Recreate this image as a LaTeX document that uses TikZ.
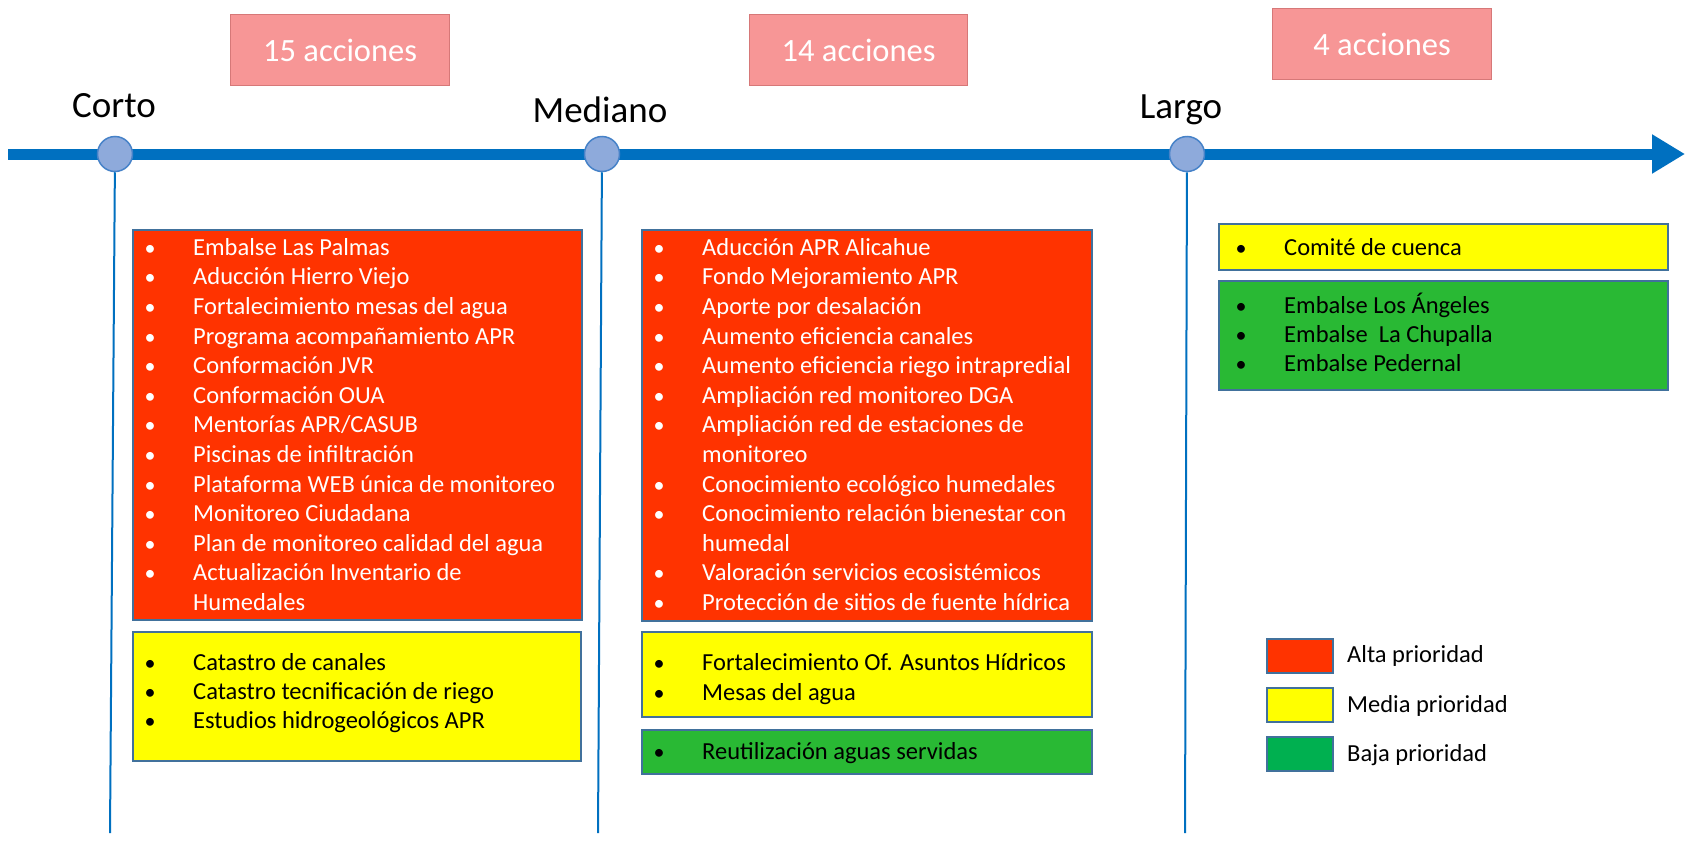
\documentclass[tikz,border=0pt]{standalone}
\usepackage{fontspec}
\setmainfont{Carlito}
\usetikzlibrary{arrows.meta}

\definecolor{axisblue}{RGB}{0,112,192}
\definecolor{dotfill}{RGB}{142,170,219}
\definecolor{dotedge}{RGB}{70,130,200}
\definecolor{alta}{RGB}{255,51,0}
\definecolor{media}{RGB}{255,255,0}
\definecolor{baja}{RGB}{41,185,52}
\definecolor{bajaleg}{RGB}{0,176,80}
\definecolor{paneledge}{RGB}{65,113,156}
\definecolor{countfill}{RGB}{247,150,150}
\definecolor{countedge}{RGB}{214,120,120}

% rows of a list: name, text x, first row y, colour, pitch, rows
\newcommand\listrows[6]{%
  \foreach \row [count=\k from 0] in {#6}{%
    \node[itemtext, text=#4] (#1-\k) at (#2, #3+#5*\k) {\row};
  }}
% bullets of a list: name, bullet x, first row y, colour, pitch, row indices
\newcommand\listbullets[6]{%
  \foreach \k in {#6}{%
    \node[bulletmark, text=#4] (#1-b\k) at (#2, #3+#5*\k) {•};
  }}

\begin{document}
\begin{tikzpicture}[x=1pt, y=-1pt,
  axisline/.style={draw=axisblue, line width=11pt, -{Triangle[length=33pt,width=37pt]}},
  stem/.style={draw=axisblue, line width=2pt},
  tick/.style={circle, minimum size=35pt, inner sep=0, fill=dotfill, draw=dotedge, line width=1.5pt},
  period/.style={anchor=base, inner sep=0, font=\fontsize{37}{44}\selectfont},
  countbox/.style={fill=countfill, draw=countedge, line width=1.2pt, anchor=north west, inner sep=0,
    text=white, font=\fontsize{32.5}{39}\selectfont},
  panel/.style={draw=paneledge, line width=1.5pt, anchor=north west, inner sep=0},
  itemtext/.style={anchor=mid west, inner sep=0, font=\fontsize{24.5}{29.8}\selectfont},
  bulletmark/.style={anchor=mid, inner sep=0, font=\fontsize{22}{29.8}\selectfont},
  legendbox/.style={draw=paneledge, line width=1.5pt, anchor=north west, inner sep=0,
    minimum width=66pt, minimum height=34pt}]

\useasboundingbox (0,0) rectangle (1685,846);
\fill[white] (0,0) rectangle (1685,846);

% timeline
\coordinate (tl) at (8,154);
\coordinate (tr) at (1685,154);
\coordinate (k1) at (115,154);
\coordinate (k2) at (602,154);
\coordinate (k3) at (1187,154);
\coordinate (f1) at (110,833);
\coordinate (f2) at (598,833);
\coordinate (f3) at (1185,833);

\draw[axisline] (tl) -- (tr);
\node[tick] (c1) at (k1) {};
\node[tick] (c2) at (k2) {};
\node[tick] (c3) at (k3) {};
\draw[stem] (c1) -- (f1);
\draw[stem] (c2) -- (f2);
\draw[stem] (c3) -- (f3);

% period labels
\node[period] (corto) at (114,117) {Corto};
\node[period] (mediano) at (600,122) {Mediano};
\node[period] (largo) at (1181,118) {Largo};

% action counts
\node[countbox, minimum width=219pt, minimum height=71pt] (n1) at (230,14) {15 acciones};
\node[countbox, minimum width=218pt, minimum height=71pt] (n2) at (749,14) {14 acciones};
\node[countbox, minimum width=219pt, minimum height=71pt] (n3) at (1272,8) {4 acciones};

% short term
\node[panel, fill=alta, minimum width=449pt, minimum height=390pt] (ca) at (132,229) {};
\node[panel, fill=media, minimum width=448pt, minimum height=129pt] (cm) at (132,631) {};
\listbullets{cab}{150}{253}{white}{29.6}{0,...,11}
\listrows{cat}{193}{253}{white}{29.6}{Embalse Las Palmas, Aducción Hierro Viejo,
  Fortalecimiento mesas del agua, Programa acompañamiento APR, Conformación JVR,
  Conformación OUA, Mentorías APR/CASUB, Piscinas de infiltración,
  Plataforma WEB única de monitoreo, Monitoreo Ciudadana,
  Plan de monitoreo calidad del agua, Actualización Inventario de, Humedales}
\listbullets{cmb}{150}{668}{black}{29}{0,1,2}
\listrows{cmt}{193}{668}{black}{29}{Catastro de canales, Catastro tecnificación de riego,
  Estudios hidrogeológicos APR}

% medium term
\node[panel, fill=alta, minimum width=450pt, minimum height=391pt] (ma) at (641,229) {};
\node[panel, fill=media, minimum width=450pt, minimum height=85pt] (mm) at (641,631) {};
\node[panel, fill=baja, minimum width=450pt, minimum height=44pt] (mb) at (641,729) {};
\listbullets{mab}{659}{253}{white}{29.6}{0,1,2,3,4,5,6,8,9,11,12}
\listrows{mat}{702}{253}{white}{29.6}{Aducción APR Alicahue, Fondo Mejoramiento APR,
  Aporte por desalación, Aumento eficiencia canales,
  Aumento eficiencia riego intrapredial, Ampliación red monitoreo DGA,
  Ampliación red de estaciones de, monitoreo, Conocimiento ecológico humedales,
  Conocimiento relación bienestar con, humedal, Valoración servicios ecosistémicos,
  Protección de sitios de fuente hídrica}
\listbullets{mmb}{659}{668}{black}{29.6}{0,1}
\listrows{mmt}{702}{668}{black}{29.6}{Fortalecimiento Of. Asuntos Hídricos, Mesas del agua}
\listbullets{mbb}{659}{757}{black}{29.6}{0}
\listrows{mbt}{702}{757}{black}{29.6}{Reutilización aguas servidas}

% long term
\node[panel, fill=media, minimum width=449pt, minimum height=46pt] (lm) at (1218,223) {};
\node[panel, fill=baja, minimum width=449pt, minimum height=109pt] (lb) at (1218,280) {};
\listbullets{lmb}{1241}{253}{black}{29}{0}
\listrows{lmt}{1284}{253}{black}{29}{Comité de cuenca}
\listbullets{lbb}{1241}{311}{black}{29}{0,1,2}
\listrows{lbt}{1284}{311}{black}{29}{Embalse Los Ángeles, Embalse\ \ La Chupalla, Embalse Pedernal}

% legend
\node[legendbox, fill=alta] (ka) at (1266,638) {};
\node[legendbox, fill=media] (km) at (1266,687) {};
\node[legendbox, fill=bajaleg] (kb) at (1266,736) {};
\node[itemtext] (ta) at (1347,660) {Alta prioridad};
\node[itemtext] (tm) at (1347,710) {Media prioridad};
\node[itemtext] (tb) at (1347,759) {Baja prioridad};

\end{tikzpicture}
\end{document}
